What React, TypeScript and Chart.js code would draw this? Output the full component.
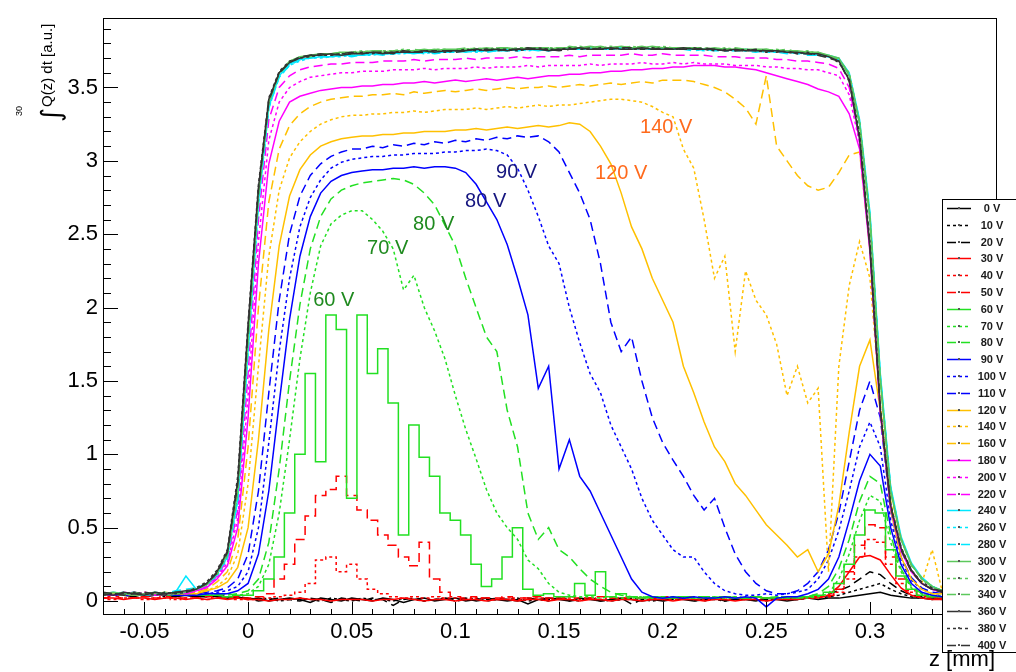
import React, { useEffect, useRef } from "react";
import { Chart, registerables } from "chart.js";

Chart.register(...registerables);

const FONT = '"Liberation Sans", Arial, Helvetica, sans-serif';

// bin centres z [mm]
const Z = [-0.07,-0.065,-0.06,-0.055,-0.05,-0.045,-0.04,-0.035,-0.03,-0.025,-0.02,-0.015,-0.01,-0.005,0,0.005,0.01,0.015,0.02,0.025,0.03,0.035,0.04,0.045,0.05,0.055,0.06,0.065,0.07,0.075,0.08,0.085,0.09,0.095,0.1,0.105,0.11,0.115,0.12,0.125,0.13,0.135,0.14,0.145,0.15,0.155,0.16,0.165,0.17,0.175,0.18,0.185,0.19,0.195,0.2,0.205,0.21,0.215,0.22,0.225,0.23,0.235,0.24,0.245,0.25,0.255,0.26,0.265,0.27,0.275,0.28,0.285,0.29,0.295,0.3,0.305,0.31,0.315,0.32,0.325,0.33,0.335,0.34,0.345,0.35,0.355,0.36];

const X_TICKS = [-0.05, 0, 0.05, 0.1, 0.15, 0.2, 0.25, 0.3, 0.35];
const X_TICK_LABELS = ["-0.05", "0", "0.05", "0.1", "0.15", "0.2", "0.25", "0.3", "0.35"];
const Y_TICKS = [0, 0.5, 1, 1.5, 2, 2.5, 3, 3.5];
const Y_TICK_LABELS = ["0", "0.5", "1", "1.5", "2", "2.5", "3", "3.5"];

const v0 = [0.04,0.05,0.04,0.03,0.05,0.04,0.04,0.03,0.04, 0.03,0.04,0.03,0.02,0.03,
  0.01,0.02,0.0,0.01,0.02,0.01,-0.01,0.02,0.01,0.0,0.02, 0.01,0.0,0.02,0.01,-0.01,0.01,0.02,0.0,0.01,0.02,
  0.0,0.01,0.02,0.01,0.0,0.01,-0.02,0.01,0.02,0.01, 0.0,0.02,0.01,0.0,0.01,0.02,0.01,0.0,0.01,0.0,
  0.02,0.01,0.0,0.01,0.02,0.0,0.01,0.01,0.0,0.02, 0.01,0.0,0.01,0.02,0.01,0.02,0.02,0.03,0.04,0.05,
  0.06,0.04,0.03,0.02,0.02,0.01,0.02,0.01,0.02,0.01,0.02,0.01];
const v10 = [0.05,0.04,0.05,0.04,0.04,0.05,0.03,0.04,0.05, 0.04,0.03,0.04,0.03,0.02,
  0.02,0.01,0.02,0.0,0.01,0.02,0.01,0.0,0.02,0.01,0.0, 0.02,0.01,0.01,0.0,0.02,0.01,0.0,0.01,0.02,0.0,
  0.01,0.02,0.0,0.01,0.01,0.02,0.0,0.01,0.0,0.02, 0.01,0.0,0.02,0.01,0.0,0.01,0.02,0.01,0.0,0.01,
  0.01,0.02,0.0,0.01,0.01,0.0,0.02,0.01,0.01,0.0, 0.02,0.01,0.01,0.02,0.02,0.03,0.04,0.06,0.08,0.1,
  0.12,0.08,0.05,0.03,0.02,0.02,0.01,0.02,0.01,0.02,0.01,0.02];
const v20 = [0.04,0.04,0.05,0.05,0.03,0.04,0.05,0.04,0.04, 0.03,0.03,0.04,0.03,0.03,
  0.02,0.0,0.01,0.02,0.01,0.0,0.02,0.01,-0.01,0.02,0.01, 0.0,0.02,0.01,-0.03,0.01,0.02,0.0,0.01,0.02,0.01,
  0.02,0.0,0.01,0.02,0.01,0.0,0.02,0.01,0.01,0.02, 0.0,0.01,0.02,0.0,0.01,0.02,-0.02,0.01,0.02,0.0,
  0.01,0.02,0.01,0.0,0.02,0.01,0.01,0.02,0.0,0.01, 0.02,0.01,0.02,0.03,0.03,0.05,0.07,0.1,0.15,0.2,
  0.18,0.12,0.07,0.04,0.03,0.02,0.02,0.01,0.02,0.02,0.01,0.02];
const v30 = [0.02,0.02,0.01,0.02,0.02,0.01,0.02,0.02,0.01, 0.02,0.01,0.02,0.01,0.02,
  0.01,0.01,0.0,0.01,0.01,0.02,0.01,0.01,0.0,0.01,0.01, 0.01,0.0,0.01,0.01,0.02,0.01,0.0,0.01,0.01,0.0,
  0.01,0.01,0.0,0.01,0.01,0.0,0.01,0.01,0.0,0.01, 0.01,0.0,0.01,0.01,0.0,0.01,0.01,0.0,0.01,0.01,
  0.0,0.01,0.01,0.0,0.01,0.01,0.0,0.01,0.01,0.0, 0.01,0.01,0.01,0.02,0.02,0.04,0.1,0.2,0.3,0.31,
  0.28,0.18,0.09,0.04,0.02,0.01,0.01,0.01,0.01,0.01,0.01,0.01];
const v40 = [0.02,0.01,0.02,0.02,0.01,0.02,0.02,0.01,0.02, 0.02,0.01,0.02,0.02,0.01,
  0.01,0.01,0.02,0.03,0.04,0.06,0.12,0.28,0.3,0.2,0.25, 0.15,0.08,0.05,0.03,0.02,0.03,0.02,0.03,0.02,0.02,
  0.01,0.02,0.02,0.01,0.02,0.01,0.02,0.02,0.01,0.02, 0.02,0.01,0.02,0.01,0.02,0.02,0.01,0.02,0.01,0.02,
  0.01,0.02,0.02,0.01,0.02,0.01,0.02,0.01,0.02,0.02, 0.02,0.02,0.03,0.02,0.03,0.03,0.06,0.15,0.3,0.42,
  0.4,0.25,0.12,0.06,0.03,0.02,0.02,0.03,0.02,0.02,0.02,0.02];
const v50 = [0.02,0.03,0.02,0.02,0.03,0.02,0.03,0.02,0.02, 0.02,0.03,0.02,0.02,0.03,
  0.02,0.03,0.05,0.15,0.25,0.42,0.58,0.72,0.76,0.85,0.72, 0.62,0.55,0.45,0.38,0.3,0.24,0.4,0.15,0.06,0.03,
  0.02,0.03,0.02,0.02,0.03,0.02,0.02,0.03,0.02,0.02, 0.03,0.02,0.02,0.03,0.02,0.02,0.03,0.02,0.02,0.03,
  0.02,0.02,0.03,0.02,0.02,0.03,0.02,0.02,0.03,0.02, 0.02,0.03,0.02,0.02,0.03,0.04,0.08,0.2,0.38,0.52,
  0.5,0.3,0.15,0.07,0.04,0.03,0.02,0.02,0.03,0.02,0.02,0.02];
const v60 = [0.04,0.04,0.05,0.04,0.04,0.05,0.04,0.04,0.04, 0.04,0.04,0.04,0.03,0.04,
  0.04,0.07,0.15,0.3,0.6,1.0,1.55,0.95,1.95,1.85,0.7, 1.95,1.55,1.72,1.35,0.45,1.2,0.98,0.85,0.6,0.55,
  0.45,0.25,0.1,0.15,0.3,0.5,0.08,0.04,0.05,0.03, 0.03,0.12,0.04,0.2,0.03,0.05,0.03,0.02,0.03,0.02,
  0.02,0.03,0.02,0.03,0.02,0.03,0.02,0.02,0.03,0.02, 0.02,0.03,0.02,0.03,0.04,0.06,0.12,0.25,0.45,0.62,
  0.6,0.35,0.17,0.08,0.04,0.03,0.03,0.04,0.03,0.03,0.03,0.04];
const v70 = [0.04,0.05,0.04,0.04,0.05,0.04,0.04,0.05,0.04, 0.04,0.04,0.04,0.05,0.04,
  0.05,0.1,0.25,0.6,1.1,1.65,2.1,2.42,2.57,2.63,2.66, 2.66,2.6,2.52,2.4,2.12,2.22,2.0,1.84,1.65,1.4,
  1.17,0.97,0.76,0.6,0.5,0.42,0.28,0.22,0.12,0.06, 0.04,0.03,0.03,0.02,0.03,0.02,0.02,0.03,0.02,0.03,
  0.02,0.03,0.02,0.03,0.02,0.02,0.03,0.02,0.03,0.02, 0.03,0.02,0.03,0.02,0.03,0.05,0.15,0.32,0.55,0.72,
  0.68,0.4,0.2,0.09,0.05,0.03,0.04,0.03,0.03,0.04,0.03,0.03];
const v80 = [0.05,0.04,0.05,0.04,0.04,0.05,0.04,0.05,0.04, 0.04,0.04,0.05,0.04,0.05,
  0.07,0.15,0.4,0.9,1.5,2.02,2.4,2.62,2.74,2.8,2.83, 2.85,2.86,2.87,2.88,2.87,2.84,2.78,2.7,2.56,2.42,
  2.2,2.0,1.8,1.7,1.3,1.05,0.6,0.42,0.5,0.35, 0.3,0.22,0.15,0.1,0.06,0.04,0.03,0.03,0.02,0.03,
  0.03,0.02,0.03,0.02,0.03,0.02,0.03,0.02,0.03,0.02, 0.03,0.02,0.03,0.03,0.05,0.1,0.22,0.42,0.68,0.85,
  0.8,0.45,0.22,0.1,0.05,0.04,0.03,0.04,0.03,0.03,0.04,0.03];
const v90 = [0.04,0.05,0.04,0.04,0.05,0.04,0.05,0.04,0.04, 0.04,0.05,0.05,0.05,0.07,
  0.12,0.32,0.75,1.35,1.92,2.35,2.62,2.78,2.86,2.9,2.92, 2.93,2.94,2.94,2.95,2.95,2.96,2.95,2.96,2.96,2.95,
  2.92,2.84,2.72,2.6,2.43,2.2,1.95,1.45,1.6,0.9, 1.1,0.85,0.75,0.6,0.45,0.3,0.15,0.06,0.03,0.02,
  0.03,0.02,0.03,0.02,0.02,0.03,0.02,0.03,0.02,-0.04, 0.02,0.03,0.03,0.05,0.08,0.15,0.3,0.55,0.82,1.0,
  0.92,0.5,0.25,0.12,0.06,0.04,0.03,0.04,0.03,0.04,0.03,0.03];
const v100 = [0.05,0.04,0.04,0.05,0.05,0.04,0.05,0.05,0.04, 0.05,0.05,0.06,0.07,0.1,
  0.2,0.5,1.08,1.7,2.2,2.55,2.75,2.87,2.95,2.99,3.01, 3.02,3.03,3.03,3.04,3.04,3.05,3.05,3.05,3.06,3.06,
  3.07,3.07,3.08,3.07,3.04,2.95,2.8,2.62,2.42,2.3, 2.0,1.76,1.55,1.42,1.2,1.05,0.9,0.7,0.55,0.45,
  0.35,0.3,0.3,0.2,0.12,0.07,0.05,0.04,0.04,0.05, 0.04,0.05,0.06,0.08,0.15,0.28,0.48,0.75,1.05,1.22,
  1.05,0.55,0.28,0.14,0.08,0.05,0.05,0.04,0.05,0.04,0.05,0.04];
const v110 = [0.04,0.04,0.05,0.05,0.04,0.05,0.05,0.04,0.05, 0.05,0.06,0.07,0.09,0.15,
  0.32,0.75,1.42,2.05,2.5,2.76,2.9,2.98,3.03,3.06,3.08, 3.08,3.1,3.09,3.11,3.1,3.12,3.11,3.13,3.12,3.14,
  3.13,3.15,3.14,3.16,3.15,3.17,3.16,3.17,3.13,3.06, 2.92,2.78,2.6,2.3,1.9,1.7,1.8,1.5,1.25,1.08,
  0.96,0.85,0.72,0.62,0.7,0.5,0.32,0.2,0.12,0.07, 0.05,0.05,0.07,0.12,0.2,0.35,0.6,0.95,1.3,1.5,
  1.25,0.62,0.3,0.16,0.09,0.06,0.05,0.04,0.05,0.04,0.05,0.04];
const v120 = [0.04,0.05,0.05,0.04,0.05,0.05,0.06,0.05,0.05, 0.05,0.07,0.09,0.13,0.23,
  0.5,1.1,1.85,2.42,2.76,2.94,3.04,3.1,3.13,3.15,3.16, 3.17,3.17,3.18,3.18,3.19,3.19,3.2,3.2,3.2,3.21,
  3.21,3.22,3.21,3.22,3.23,3.22,3.23,3.24,3.23,3.24, 3.26,3.25,3.2,3.1,2.98,2.78,2.55,2.4,2.2,2.05,
  1.9,1.6,1.42,1.22,1.05,0.95,0.8,0.72,0.62,0.52, 0.45,0.38,0.3,0.35,0.2,0.32,0.65,1.15,1.6,1.78,
  1.3,0.62,0.3,0.15,0.08,0.05,0.05,0.04,0.05,0.04,0.05,0.05];
const v140 = [0.04,0.05,0.05,0.05,0.04,0.06,0.05,0.05,0.05, 0.06,0.07,0.1,0.16,0.32,
  0.8,1.6,2.35,2.8,3.02,3.13,3.2,3.25,3.28,3.3,3.31, 3.31,3.32,3.32,3.33,3.33,3.34,3.33,3.34,3.35,3.35,
  3.35,3.36,3.35,3.36,3.37,3.36,3.37,3.38,3.37,3.38, 3.38,3.39,3.4,3.41,3.42,3.42,3.41,3.4,3.37,3.33,
  3.3,3.08,2.95,2.6,2.2,2.35,1.7,2.25,2.05,1.95, 1.75,1.4,1.6,1.35,1.45,0.2,1.6,2.15,2.45,2.2,
  1.35,0.68,0.36,0.2,0.12,0.35,0.06,0.05,0.05,0.04,0.05,0.05];
const v160 = [0.05,0.05,0.04,0.05,0.06,0.04,0.05,0.05,0.06, 0.06,0.08,0.13,0.2,0.42,
  1.05,2.0,2.72,3.08,3.24,3.32,3.37,3.4,3.42,3.43,3.44, 3.44,3.45,3.45,3.46,3.45,3.47,3.46,3.47,3.48,3.47,
  3.48,3.49,3.48,3.49,3.5,3.49,3.5,3.5,3.51,3.5, 3.51,3.52,3.51,3.52,3.53,3.52,3.53,3.54,3.53,3.55,
  3.55,3.55,3.54,3.52,3.5,3.47,3.42,3.36,3.25,3.58, 3.1,3.0,2.9,2.83,2.8,2.82,2.92,3.04,3.06,2.4,
  1.3,0.64,0.35,0.2,0.12,0.08,0.06,0.05,0.05,0.05,0.05,0.04];
const v180 = [0.05,0.04,0.06,0.05,0.05,0.04,0.05,0.06,0.05, 0.07,0.09,0.15,0.24,0.5,
  1.25,2.3,2.98,3.27,3.4,3.44,3.46,3.48,3.49,3.5,3.5, 3.51,3.51,3.52,3.52,3.53,3.53,3.54,3.53,3.54,3.55,
  3.54,3.55,3.56,3.55,3.56,3.57,3.56,3.57,3.58,3.58, 3.59,3.59,3.6,3.6,3.61,3.61,3.62,3.62,3.63,3.63,
  3.64,3.64,3.65,3.65,3.65,3.64,3.64,3.63,3.62,3.6, 3.58,3.56,3.54,3.52,3.49,3.47,3.44,3.32,3.08,2.38,
  1.28,0.63,0.34,0.2,0.12,0.08,0.06,0.05,0.05,0.05,0.04,0.05];
const v200 = [0.04,0.05,0.05,0.04,0.06,0.05,0.05,0.05,0.06, 0.07,0.1,0.16,0.26,0.56,
  1.4,2.45,3.14,3.4,3.5,3.54,3.57,3.58,3.59,3.6,3.6, 3.61,3.61,3.61,3.62,3.62,3.62,3.63,3.62,3.63,3.63,
  3.63,3.64,3.63,3.64,3.64,3.64,3.65,3.64,3.65,3.65, 3.65,3.65,3.66,3.65,3.66,3.66,3.66,3.67,3.66,3.66,
  3.67,3.66,3.67,3.66,3.66,3.66,3.65,3.65,3.65,3.64, 3.64,3.63,3.63,3.62,3.62,3.6,3.58,3.45,3.12,2.4,
  1.3,0.64,0.35,0.2,0.12,0.08,0.06,0.05,0.05,0.04,0.05,0.05];
const v220 = [0.05,0.04,0.05,0.06,0.05,0.05,0.04,0.06,0.05, 0.07,0.1,0.17,0.28,0.62,
  1.55,2.6,3.28,3.5,3.58,3.62,3.64,3.65,3.66,3.66,3.67, 3.67,3.67,3.68,3.68,3.68,3.69,3.68,3.69,3.69,3.69,
  3.7,3.69,3.7,3.7,3.7,3.71,3.7,3.71,3.71,3.71, 3.72,3.71,3.72,3.72,3.72,3.72,3.73,3.72,3.72,3.73,
  3.72,3.72,3.72,3.72,3.71,3.71,3.71,3.7,3.7,3.7, 3.69,3.69,3.68,3.68,3.67,3.66,3.63,3.5,3.14,2.42,
  1.3,0.65,0.36,0.21,0.12,0.08,0.06,0.05,0.05,0.05,0.04,0.05];
const v240 = [0.05,0.06,0.05,0.05,0.04,0.06,0.05,0.06,0.17, 0.08,0.11,0.18,0.3,0.7,
  1.72,2.72,3.37,3.58,3.66,3.69,3.7,3.71,3.71,3.72,3.72, 3.72,3.73,3.73,3.73,3.74,3.73,3.74,3.74,3.74,3.75,
  3.74,3.75,3.75,3.75,3.76,3.75,3.76,3.75,3.76,3.76, 3.76,3.76,3.77,3.76,3.76,3.77,3.76,3.77,3.76,3.76,
  3.77,3.76,3.76,3.76,3.76,3.76,3.75,3.76,3.75,3.75, 3.75,3.74,3.74,3.73,3.73,3.72,3.7,3.6,3.28,2.65,
  1.55,0.78,0.44,0.26,0.16,0.1,0.07,0.06,0.05,0.05,0.04,0.05];
const v260 = [0.04,0.05,0.06,0.05,0.05,0.05,0.06,0.05,0.06, 0.09,0.11,0.17,0.29,0.68,
  1.7,2.7,3.36,3.57,3.65,3.68,3.7,3.7,3.71,3.71,3.72, 3.72,3.72,3.73,3.73,3.73,3.74,3.73,3.74,3.74,3.74,
  3.75,3.74,3.75,3.75,3.75,3.76,3.75,3.76,3.75,3.76, 3.76,3.76,3.76,3.77,3.76,3.76,3.77,3.76,3.76,3.77,
  3.76,3.76,3.76,3.75,3.76,3.75,3.75,3.75,3.75,3.74, 3.74,3.74,3.73,3.73,3.72,3.71,3.69,3.58,3.25,2.62,
  1.53,0.77,0.43,0.25,0.15,0.1,0.07,0.05,0.05,0.05,0.05,0.04];
const v280 = [0.05,0.05,0.05,0.06,0.04,0.05,0.05,0.07,0.08, 0.09,0.12,0.18,0.3,0.69,
  1.71,2.71,3.36,3.57,3.65,3.69,3.7,3.71,3.71,3.72,3.71, 3.72,3.73,3.72,3.73,3.74,3.73,3.74,3.73,3.74,3.74,
  3.75,3.75,3.74,3.75,3.75,3.75,3.76,3.76,3.75,3.76, 3.76,3.77,3.76,3.76,3.76,3.77,3.77,3.76,3.77,3.76,
  3.76,3.76,3.75,3.76,3.75,3.75,3.76,3.75,3.74,3.75, 3.74,3.73,3.74,3.72,3.72,3.71,3.69,3.59,3.26,2.63,
  1.54,0.77,0.42,0.25,0.16,0.1,0.07,0.06,0.05,0.04,0.05,0.05];
const v300 = [0.05,0.06,0.05,0.04,0.05,0.06,0.05,0.05,0.06, 0.08,0.11,0.19,0.32,0.76,
  1.8,2.78,3.4,3.6,3.68,3.71,3.72,3.73,3.73,3.74,3.74, 3.74,3.75,3.74,3.75,3.75,3.75,3.76,3.75,3.76,3.76,
  3.76,3.76,3.77,3.76,3.77,3.76,3.77,3.77,3.76,3.77, 3.77,3.77,3.78,3.77,3.77,3.78,3.77,3.77,3.78,3.77,
  3.77,3.77,3.77,3.76,3.77,3.76,3.76,3.76,3.76,3.76, 3.75,3.75,3.75,3.74,3.74,3.72,3.7,3.58,3.25,2.6,
  1.5,0.75,0.42,0.25,0.15,0.1,0.07,0.06,0.05,0.05,0.05,0.04];
const v320 = [0.04,0.05,0.06,0.05,0.05,0.04,0.06,0.05,0.07, 0.09,0.12,0.18,0.31,0.74,
  1.78,2.76,3.39,3.6,3.67,3.7,3.72,3.72,3.73,3.73,3.74, 3.75,3.74,3.75,3.75,3.76,3.75,3.75,3.76,3.76,3.75,
  3.76,3.77,3.76,3.77,3.76,3.77,3.77,3.76,3.77,3.77, 3.77,3.78,3.77,3.77,3.78,3.77,3.78,3.77,3.77,3.78,
  3.77,3.77,3.76,3.77,3.76,3.77,3.76,3.75,3.76,3.75, 3.76,3.75,3.74,3.75,3.73,3.72,3.69,3.6,3.27,2.62,
  1.52,0.76,0.43,0.25,0.15,0.09,0.07,0.05,0.06,0.05,0.04,0.05];
const v340 = [0.05,0.05,0.04,0.06,0.05,0.05,0.05,0.06,0.06, 0.08,0.12,0.19,0.32,0.75,
  1.79,2.77,3.4,3.59,3.67,3.71,3.71,3.72,3.73,3.74,3.73, 3.74,3.75,3.75,3.74,3.75,3.76,3.75,3.76,3.75,3.76,
  3.77,3.76,3.76,3.77,3.77,3.76,3.77,3.77,3.77,3.76, 3.78,3.77,3.77,3.78,3.77,3.78,3.77,3.78,3.77,3.77,
  3.77,3.76,3.77,3.77,3.76,3.76,3.77,3.76,3.75,3.76, 3.75,3.76,3.74,3.74,3.74,3.71,3.7,3.59,3.26,2.61,
  1.51,0.74,0.42,0.24,0.16,0.1,0.07,0.06,0.05,0.05,0.05,0.04];
const v360 = [0.05,0.04,0.06,0.05,0.04,0.06,0.05,0.06,0.07, 0.08,0.12,0.2,0.34,0.82,
  1.88,2.82,3.42,3.6,3.67,3.7,3.72,3.72,3.73,3.72,3.73, 3.73,3.74,3.73,3.74,3.74,3.74,3.75,3.74,3.75,3.75,
  3.75,3.76,3.75,3.76,3.75,3.76,3.76,3.76,3.75,3.76, 3.76,3.77,3.76,3.76,3.77,3.76,3.76,3.77,3.76,3.76,
  3.76,3.77,3.76,3.76,3.76,3.75,3.76,3.75,3.75,3.75, 3.75,3.74,3.74,3.73,3.73,3.71,3.68,3.55,3.15,2.4,
  1.3,0.65,0.36,0.21,0.12,0.08,0.07,0.06,0.05,0.05,0.04,0.05];
const v380 = [0.04,0.05,0.05,0.06,0.05,0.04,0.06,0.05,0.06, 0.09,0.13,0.21,0.35,0.85,
  1.9,2.84,3.43,3.61,3.68,3.7,3.71,3.72,3.72,3.73,3.73, 3.74,3.73,3.74,3.74,3.75,3.74,3.75,3.75,3.74,3.75,
  3.76,3.75,3.76,3.76,3.76,3.75,3.76,3.77,3.76,3.76, 3.77,3.76,3.76,3.77,3.76,3.77,3.76,3.76,3.77,3.76,
  3.76,3.76,3.77,3.76,3.75,3.76,3.75,3.76,3.75,3.74, 3.75,3.74,3.73,3.74,3.72,3.71,3.67,3.56,3.18,2.45,
  1.32,0.66,0.37,0.21,0.13,0.09,0.06,0.05,0.06,0.05,0.05,0.04];
const v400 = [0.06,0.05,0.04,0.05,0.06,0.05,0.04,0.06,0.06, 0.08,0.12,0.19,0.33,0.8,
  1.86,2.8,3.41,3.6,3.67,3.71,3.72,3.73,3.72,3.73,3.74, 3.73,3.74,3.74,3.73,3.75,3.74,3.74,3.75,3.75,3.74,
  3.75,3.76,3.76,3.75,3.76,3.76,3.77,3.76,3.76,3.75, 3.76,3.76,3.77,3.76,3.76,3.77,3.77,3.76,3.76,3.77,
  3.76,3.76,3.76,3.77,3.76,3.75,3.75,3.75,3.76,3.75, 3.74,3.75,3.73,3.73,3.72,3.7,3.68,3.54,3.16,2.42,
  1.3,0.64,0.35,0.2,0.12,0.08,0.06,0.05,0.05,0.04,0.05,0.05];

const SERIES = [v0, v10, v20, v30, v40, v50, v60, v70, v80, v90, v100, v110, v120, v140, v160,
  v180, v200, v220, v240, v260, v280, v300, v320, v340, v360, v380, v400];
const SERIES_LABELS = ["0 V", "10 V", "20 V", "30 V", "40 V", "50 V", "60 V", "70 V", "80 V", "90 V",
  "100 V", "110 V", "120 V", "140 V", "160 V", "180 V", "200 V", "220 V", "240 V", "260 V", "280 V",
  "300 V", "320 V", "340 V", "360 V", "380 V", "400 V"];
// series drawn as histogram steps (the spiky ones); the rest as joined bin centres
const STEPPED_LABELS = ["40 V", "50 V", "60 V"];

// colour per group of three, line style cycles solid / dotted / dashed
const GROUP_COLORS = ["#000000", "#ff0000", "#22e022", "#0000ff", "#ffc000", "#ff00ff", "#00e8ff", "#5cc85c", "#333333"];
const DASHES: number[][] = [[], [3, 3], [9, 5]];

// in-plot annotations (text, z, value, colour)
const NOTE_TEXT = ["60 V", "70 V", "80 V", "80 V", "90 V", "120 V", "140 V"];
const NOTE_Z = [0.0314, 0.0574, 0.0796, 0.1047, 0.1196, 0.1674, 0.1891];
const NOTE_V = [2.01, 2.366, 2.527, 2.685, 2.883, 2.876, 3.192];
const NOTE_COLOR = ["#1f8a1f", "#1f8a1f", "#1f8a1f", "#15157f", "#15157f", "#ff6a1c", "#ff6a1c"];

export default function App() {
  const ref = useRef<HTMLCanvasElement>(null);

  useEffect(() => {
    const canvas = ref.current;
    if (!canvas) return;

    const datasets = SERIES.map((vals, i) => ({
      label: SERIES_LABELS[i],
      data: vals.map((v, j) => ({ x: Z[j], y: v })),
      borderColor: GROUP_COLORS[Math.floor(i / 3)],
      backgroundColor: GROUP_COLORS[Math.floor(i / 3)],
      borderWidth: 1.5,
      borderDash: DASHES[i % 3],
      pointRadius: 0,
      stepped: STEPPED_LABELS.includes(SERIES_LABELS[i]) ? ("middle" as const) : false,
      fill: false,
      tension: 0,
      order: -i,
    }));

    const decor = {
      id: "rootDecor",
      afterDraw(chart: any) {
        const { ctx, chartArea: a, scales } = chart;
        const xs = scales.x;
        const ys = scales.y;
        ctx.save();
        // frame
        ctx.strokeStyle = "#000";
        ctx.lineWidth = 1;
        ctx.setLineDash([]);
        ctx.strokeRect(Math.round(a.left) + 0.5, Math.round(a.top) + 0.5,
          Math.round(a.right - a.left) - 1, Math.round(a.bottom - a.top) - 1);
        // inward ticks
        ctx.beginPath();
        for (let k = 0; k <= 39; k++) {
          const py = Math.round(ys.getPixelForValue(k / 10)) + 0.5;
          const len = k % 5 === 0 ? 15 : 8;
          ctx.moveTo(a.left, py);
          ctx.lineTo(a.left + len, py);
        }
        for (let k = -7; k <= 36; k++) {
          const px = Math.round(xs.getPixelForValue(k / 100)) + 0.5;
          const len = k % 5 === 0 ? 13 : 6;
          ctx.moveTo(px, a.bottom);
          ctx.lineTo(px, a.bottom - len);
        }
        ctx.stroke();

        // annotations
        ctx.font = `20px ${FONT}`;
        ctx.textAlign = "left";
        ctx.textBaseline = "alphabetic";
        NOTE_TEXT.forEach((t, i) => {
          ctx.fillStyle = NOTE_COLOR[i];
          ctx.fillText(t, xs.getPixelForValue(NOTE_Z[i]), ys.getPixelForValue(NOTE_V[i]));
        });

        // legend box
        const lx = 942, ly = 199, lw = 80, lh = 453;
        ctx.fillStyle = "#fff";
        ctx.fillRect(lx, ly, lw, lh);
        ctx.strokeStyle = "#000";
        ctx.lineWidth = 1;
        ctx.strokeRect(lx + 0.5, ly + 0.5, lw, lh);
        SERIES_LABELS.forEach((lab, i) => {
          const yy = Math.round(208 + i * 16.8) + 0.5;
          ctx.strokeStyle = GROUP_COLORS[Math.floor(i / 3)];
          ctx.lineWidth = 1.5;
          ctx.setLineDash(DASHES[i % 3]);
          ctx.beginPath();
          ctx.moveTo(947, yy);
          ctx.lineTo(971, yy);
          ctx.stroke();
          ctx.setLineDash([]);
          ctx.fillStyle = "#555";
          ctx.fillRect(958, yy - 1.5, 2, 2);
          ctx.fillStyle = "#1a1a1a";
          ctx.font = `bold 11px ${FONT}`;
          ctx.textAlign = "center";
          ctx.textBaseline = "middle";
          ctx.fillText(lab, 992, yy + 0.5);
        });

        // axis titles
        ctx.fillStyle = "#000";
        ctx.textAlign = "right";
        ctx.textBaseline = "alphabetic";
        ctx.font = `22px ${FONT}`;
        ctx.fillText("z [mm]", 995, 666);

        ctx.save();
        ctx.translate(52, 122);
        ctx.rotate(-Math.PI / 2);
        ctx.textAlign = "left";
        ctx.font = `27px "DejaVu Sans", ${FONT}`;
        ctx.fillText("\u222B", 0, 8);
        ctx.font = `9px ${FONT}`;
        ctx.fillText("30", 6, -30);
        ctx.font = `15px ${FONT}`;
        ctx.fillText("Q(z) dt [a.u.]", 15, 0);
        ctx.restore();

        ctx.restore();
      },
    };

    const chart = new Chart(canvas, {
      type: "line",
      data: { datasets: datasets as any },
      options: {
        responsive: false,
        animation: false,
        devicePixelRatio: 1,
        events: [],
        layout: { padding: { left: 0, top: 10, right: 19, bottom: 0 } },
        plugins: { legend: { display: false }, tooltip: { enabled: false } },
        scales: {
          x: {
            type: "linear",
            min: -0.07,
            max: 0.3613,
            grid: { display: false, drawTicks: false },
            border: { display: false },
            afterBuildTicks: (s: any) => { s.ticks = X_TICKS.map((v) => ({ value: v })); },
            afterFit: (s: any) => { s.height = 57; },
            ticks: {
              autoSkip: false,
              maxRotation: 0,
              minRotation: 0,
              padding: 4,
              color: "#000",
              font: { family: FONT, size: 22 },
              callback: (v: any) => {
                const idx = X_TICKS.findIndex((t) => Math.abs(t - Number(v)) < 1e-9);
                return idx >= 0 ? X_TICK_LABELS[idx] : "";
              },
            },
          },
          y: {
            type: "linear",
            min: -0.095,
            max: 3.972,
            grid: { display: false, drawTicks: false },
            border: { display: false },
            afterBuildTicks: (s: any) => { s.ticks = Y_TICKS.map((v) => ({ value: v })); },
            afterFit: (s: any) => { s.width = 103; },
            ticks: {
              autoSkip: false,
              padding: 5,
              color: "#000",
              font: { family: FONT, size: 22 },
              callback: (v: any) => {
                const idx = Y_TICKS.findIndex((t) => Math.abs(t - Number(v)) < 1e-9);
                return idx >= 0 ? Y_TICK_LABELS[idx] : "";
              },
            },
          },
        },
      } as any,
      plugins: [decor],
    });

    return () => chart.destroy();
  }, []);

  return (
    <div style={{ position: "absolute", left: 0, top: 0, width: 1016, height: 672, background: "#fff" }}>
      <canvas ref={ref} width={1016} height={672} style={{ display: "block" }} />
    </div>
  );
}
